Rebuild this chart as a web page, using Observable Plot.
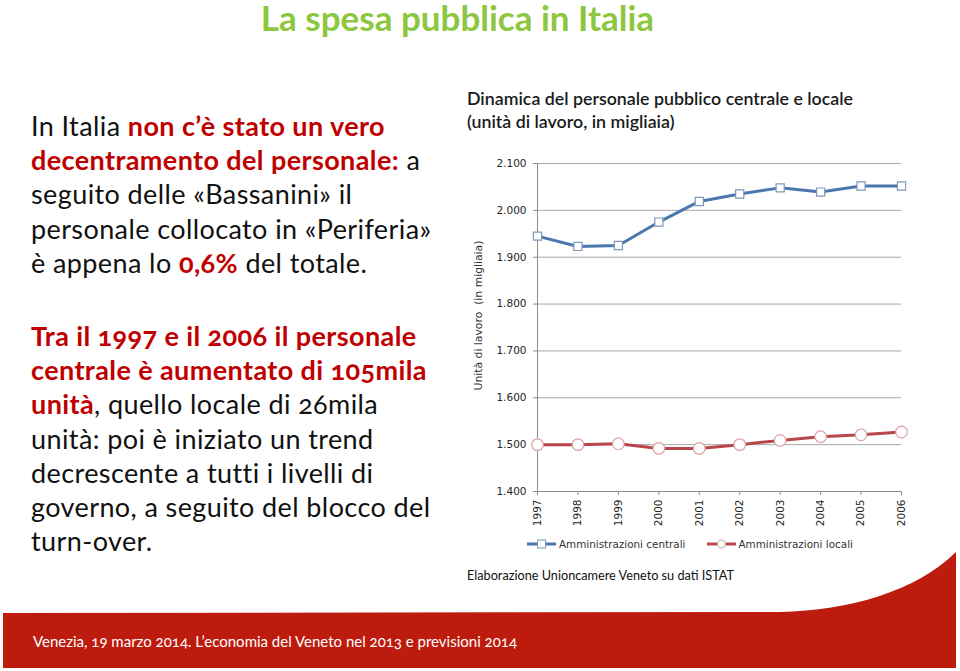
<!DOCTYPE html>
<html>
<head>
<meta charset="utf-8">
<script src="https://cdn.jsdelivr.net/npm/d3@7"></script>
<script src="https://cdn.jsdelivr.net/npm/@observablehq/plot@0.6"></script>
<style>
  html, body { margin: 0; padding: 0; background: #fff; }
  #page { position: relative; width: 960px; height: 671px; overflow: hidden; font-family: Lato, "Open Sans", sans-serif; }
  .abs { position: absolute; white-space: nowrap; }
  #title { left: 0; width: 915px; top: 0px; line-height: 34px; text-align: center; color: #8dc63f; font-weight: 700; font-size: 35px; }
  .para { left: 31px; font-size: 27px; letter-spacing: 0.4px; line-height: 34.2px; color: #111; font-variant-numeric: oldstyle-nums; }
  .red { color: #c00000; font-weight: 700; }
  #p1 { top: 109px; }
  #p2 { top: 319px; }
  #ctitle { left: 467px; top: 87px; font-size: 17.8px; line-height: 23px; color: #1a1a1a; font-weight: 600; }
  #caption { left: 467px; top: 567px; font-size: 12.7px; color: #111; }
  #chart { left: 460px; top: 145px; }
  #legend { left: 527px; top: 537px; font-family: "DejaVu Sans", Verdana, sans-serif; font-size: 10.4px; color: #333; display: flex; align-items: center; }
  #legend span { margin-left: 3px; }
  #footer { left: 0; top: 540px; }
  #ftext { left: 33px; top: 632px; color: #fff; font-size: 15px; font-variant-numeric: oldstyle-nums; }
</style>
</head>
<body>
<div id="page">
  <div id="title" class="abs">La spesa pubblica in Italia</div>
  <div id="p1" class="abs para">
    In Italia <span class="red">non c’è stato un vero</span><br>
    <span class="red">decentramento del personale:</span> a<br>
    seguito delle «Bassanini» il<br>
    personale collocato in «Periferia»<br>
    è appena lo <span class="red">0,6%</span> del totale.
  </div>
  <div id="p2" class="abs para">
    <span class="red">Tra il 1997 e il 2006 il personale</span><br>
    <span class="red">centrale è aumentato di 105mila</span><br>
    <span class="red">unità</span>, quello locale di 26mila<br>
    unità: poi è iniziato un trend<br>
    decrescente a tutti i livelli di<br>
    governo, a seguito del blocco del<br>
    turn-over.
  </div>
  <div id="ctitle" class="abs">Dinamica del personale pubblico centrale e locale<br>(unità di lavoro, in migliaia)</div>
  <div id="chart" class="abs"></div>
  <div id="legend" class="abs"></div>
  <div id="caption" class="abs">Elaborazione Unioncamere Veneto su dati ISTAT</div>
  <svg id="footer" class="abs" width="960" height="131">
    <path d="M3,73 L780,72 C850,70 915,52 956,12 L956,128 L3,128 Z" fill="#be1b0f"></path>
  </svg>
  <div id="ftext" class="abs">Venezia, 19 marzo 2014. L’economia del Veneto nel 2013 e previsioni 2014</div>
</div>
<script>
const years = [1997, 1998, 1999, 2000, 2001, 2002, 2003, 2004, 2005, 2006];
const centrali = [1945, 1923, 1925, 1975, 2019, 2035, 2048, 2039, 2052, 2052];
const locali = [1500, 1500, 1502, 1492, 1492, 1500, 1509, 1517, 1521, 1527];
const yTicks = [1400, 1500, 1600, 1700, 1800, 1900, 2000, 2100];
const seriesNames = ["Amministrazioni centrali", "Amministrazioni locali"];
const yLabel = "Unità di lavoro  (in migliaia)";

const itFmt = d3.formatLocale({decimal: ",", thousands: ".", grouping: [3]}).format(",.0f");
const dataC = years.map((x, i) => ({x, y: centrali[i]}));
const dataL = years.map((x, i) => ({x, y: locali[i]}));

const blue = "#4a77ad", blueMk = "#7d98b8", red = "#b8464a", redMk = "#dba3a6";

const chart = Plot.plot({
  width: 460,
  height: 386,
  marginLeft: 77,
  marginRight: 19,
  marginTop: 18,
  marginBottom: 40,
  x: {domain: [1997, 2006]},
  y: {domain: [1400, 2100]},
  style: {fontFamily: "DejaVu Sans, Verdana, sans-serif", fontSize: "10.5px", color: "#262626", background: "transparent"},
  marks: [
    Plot.ruleY(yTicks.slice(1), {stroke: "#a8a8a8", strokeWidth: 1}),
    Plot.ruleX([1997], {stroke: "#8c8c8c"}),
    Plot.ruleY([1400], {stroke: "#8c8c8c"}),
    Plot.axisY({ticks: yTicks, tickFormat: itFmt, tickSize: 4, tickPadding: 7, stroke: "#8c8c8c", label: null}),
    Plot.text([yLabel], {frameAnchor: "left", textAnchor: "middle", rotate: -90, dx: -59, dy: -12, fontSize: 10.8, fill: "#333"}),
    Plot.axisX({ticks: years, tickFormat: d => String(d), tickRotate: -90, tickSize: 4, tickPadding: 4, stroke: "#8c8c8c", label: null}),
    Plot.line(dataC, {x: "x", y: "y", stroke: blue, strokeWidth: 3}),
    Plot.dot(dataC, {x: "x", y: "y", symbol: "square", r: 4.6, fill: "white", stroke: blueMk, strokeWidth: 1.2}),
    Plot.line(dataL, {x: "x", y: "y", stroke: red, strokeWidth: 3}),
    Plot.dot(dataL, {x: "x", y: "y", symbol: "circle", r: 5.8, fill: "white", stroke: redMk, strokeWidth: 1.2})
  ]
});
document.getElementById("chart").appendChild(chart);

// legend
const leg = d3.select("#legend");
const items = [
  {name: seriesNames[0], color: blue, mk: blueMk, sym: "square"},
  {name: seriesNames[1], color: red, mk: redMk, sym: "circle"}
];
items.forEach((it, i) => {
  const s = leg.append("svg").attr("width", 29).attr("height", 14)
    .style("margin-left", i ? "21px" : "0px");
  s.append("line").attr("x1", 0).attr("x2", 29).attr("y1", 7).attr("y2", 7).attr("stroke", it.color).attr("stroke-width", 3);
  if (it.sym === "square") s.append("rect").attr("x", 10.5).attr("y", 3).attr("width", 8).attr("height", 8).attr("fill", "white").attr("stroke", it.mk);
  else s.append("circle").attr("cx", 14.5).attr("cy", 7).attr("r", 4).attr("fill", "white").attr("stroke", it.mk);
  leg.append("span").text(it.name);
});
</script>
</body>
</html>
